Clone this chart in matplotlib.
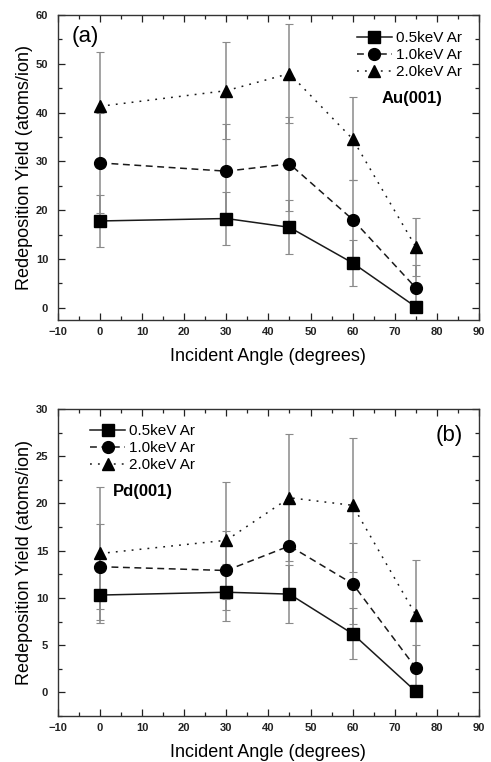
import matplotlib
matplotlib.use("Agg")
import matplotlib.pyplot as plt
from matplotlib.ticker import MultipleLocator

plt.rcParams['font.family'] = ['Liberation Sans', 'DejaVu Sans']

angles = [0, 30, 45, 60, 75]
series_labels = ["0.5keV Ar", "1.0keV Ar", "2.0keV Ar"]

# Panel (a) Au(001)
au_05 = [17.8, 18.3, 16.5, 9.2, 0.2]
au_10 = [29.7, 28.0, 29.5, 18.1, 4.1]
au_20 = [41.3, 44.5, 48.0, 34.6, 12.5]
au_05_err = [5.3, 5.5, 5.5, 4.8, 0.4]
au_10_err = [10.3, 9.6, 9.7, 8.0, 4.7]
au_20_err = [11.2, 10.0, 10.2, 8.5, 5.9]

# Panel (b) Pd(001)
pd_05 = [10.3, 10.6, 10.4, 6.2, 0.1]
pd_10 = [13.3, 12.9, 15.5, 11.5, 2.6]
pd_20 = [14.7, 16.1, 20.6, 19.8, 8.2]
pd_05_err = [3.0, 3.0, 3.1, 2.7, 0.3]
pd_10_err = [4.5, 4.2, 4.5, 4.3, 2.4]
pd_20_err = [7.0, 6.2, 6.7, 7.1, 5.8]

markers = ['s', 'o', '^']
linestyles = ['-', (0, (4.5, 3)), (0, (1.2, 4))]
msizes = [8, 8.5, 9]

fig = plt.figure(figsize=(4.91, 7.62), dpi=100)
ax1 = fig.add_axes([0.118, 0.580, 0.8574, 0.4003])
ax2 = fig.add_axes([0.118, 0.0604, 0.8574, 0.4029])

def draw(ax, ys, errs, ylim, ymaj, ymin):
    handles = []
    for y, e in zip(ys, errs):
        ax.errorbar(angles, y, yerr=e, fmt='none', ecolor='#8a8a8a',
                    elinewidth=1.1, capsize=3, capthick=0.8, zorder=1)
    for y, m, ls, ms, lab in zip(ys, markers, linestyles, msizes, series_labels):
        h, = ax.plot(angles, y, marker=m, linestyle=ls, color='#1a1a1a',
                     markerfacecolor='black', markeredgecolor='black',
                     markersize=ms, linewidth=1.1, label=lab, zorder=3)
        handles.append(h)
    ax.set_xlim(-10, 90)
    ax.set_ylim(*ylim)
    ax.xaxis.set_major_locator(MultipleLocator(10))
    ax.xaxis.set_minor_locator(MultipleLocator(5))
    ax.yaxis.set_major_locator(MultipleLocator(ymaj))
    ax.yaxis.set_minor_locator(MultipleLocator(ymin))
    ax.tick_params(which='both', direction='in', top=True, right=True,
                   labelsize=8, width=0.9, colors='#222222')
    ax.tick_params(axis='y', pad=7)
    ax.tick_params(axis='x', pad=5)
    ax.tick_params(which='major', length=5)
    ax.tick_params(which='minor', length=3)
    for lbl in ax.get_xticklabels() + ax.get_yticklabels():
        lbl.set_fontweight('bold')
    for s in ax.spines.values():
        s.set_linewidth(1.0)
        s.set_color('#333333')
    ax.set_xlabel('Incident Angle (degrees)', fontsize=13, labelpad=8)
    ax.set_ylabel('Redeposition Yield (atoms/ion)', fontsize=13, labelpad=2)
    return handles

h1 = draw(ax1, [au_05, au_10, au_20], [au_05_err, au_10_err, au_20_err],
          (-2.5, 60), 10, 5)
h2 = draw(ax2, [pd_05, pd_10, pd_20], [pd_05_err, pd_10_err, pd_20_err],
          (-2.5, 30), 5, 2.5)

legkw = dict(frameon=False, fontsize=11, handlelength=2.3,
             handletextpad=0.27, labelspacing=0.2, borderaxespad=0.0,
             borderpad=0.0)
ax1.legend(handles=h1, loc='upper right', bbox_to_anchor=(0.96, 0.948), **legkw)
ax1.text(0.914, 0.725, 'Au(001)', transform=ax1.transAxes, fontsize=12,
         fontweight='bold', ha='right', va='center')
ax1.text(0.033, 0.928, '(a)', transform=ax1.transAxes, fontsize=16,
         ha='left', va='center')

ax2.legend(handles=h2, loc='upper left', bbox_to_anchor=(0.076, 0.951), **legkw)
ax2.text(0.131, 0.73, 'Pd(001)', transform=ax2.transAxes, fontsize=12,
         fontweight='bold', ha='left', va='center')
ax2.text(0.962, 0.915, '(b)', transform=ax2.transAxes, fontsize=16,
         ha='right', va='center')

fig.savefig('out.png', dpi=100)
